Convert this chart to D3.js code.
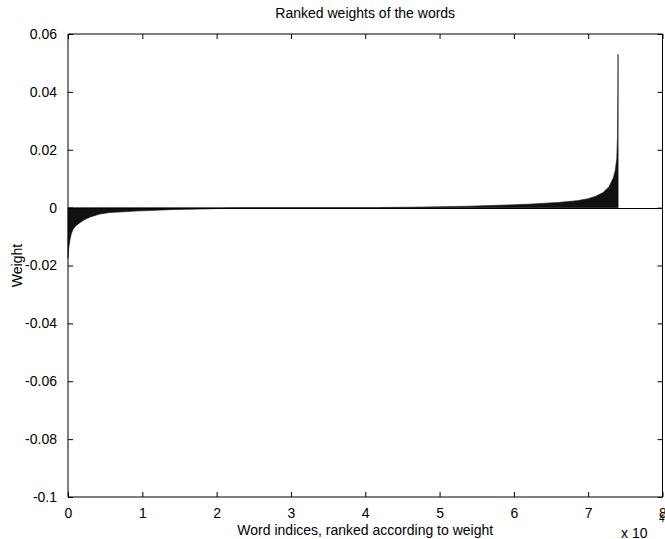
<!DOCTYPE html>
<html>
<head>
<meta charset="utf-8">
<script src="https://cdn.jsdelivr.net/npm/d3@7"></script>
<style>
  body { margin: 0; background: #fff; }
  svg { display: block; font-family: Arial, "Liberation Sans", Helvetica, sans-serif; }
</style>
</head>
<body>
<svg id="chart"></svg>
<script>
const WIDTH = 665;
const HEIGHT = 539;
const MARGIN = {top: 34, right: 2, bottom: 42, left: 68};

// ranked word weights, sampled along the sorted curve (index, weight)
const wordIndex = [
  0, 60, 150, 270, 450, 670, 1000, 1600, 2200, 3000, 4300, 5600, 7000, 9000,
  11000, 13700, 17700, 20500, 22400, 22500,
  41800, 42000, 46000, 50000, 54000, 58000, 62000, 66000, 68500, 70000,
  71000, 72000, 72800, 73400, 73650, 73850, 73950, 74000, 74020, 74030
];
const weight = [
  -0.0175, -0.015, -0.013, -0.011, -0.009, -0.0076, -0.0064, -0.0052, -0.0042, -0.0032,
  -0.0022, -0.0017, -0.0015, -0.0012, -0.001, -0.0007, -0.0005, -0.0003, -0.0001, 0,
  0, 0.00005, 0.00015, 0.0003, 0.0005, 0.0008, 0.0012, 0.0018, 0.0024, 0.0031,
  0.0039, 0.0052, 0.0072, 0.0104, 0.013, 0.017, 0.025, 0.04, 0.053, 0
];

const xTicks = [0, 1, 2, 3, 4, 5, 6, 7, 8];          // x 10^4
const yTicks = [0.06, 0.04, 0.02, 0, -0.02, -0.04, -0.06, -0.08, -0.1];
const yTickLabels = ["0.06", "0.04", "0.02", "0", "-0.02", "-0.04", "-0.06", "-0.08", "-0.1"];

const FONT = 14;

function main(){
    var svg = d3.select("#chart")
        .attr("width", WIDTH)
        .attr("height", HEIGHT);

    svg.append("rect").attr("width", WIDTH).attr("height", HEIGHT).attr("fill", "#fff");

    var x = d3.scaleLinear().domain([0, 80000]).range([MARGIN.left, WIDTH - MARGIN.right - 0.5]);
    var y = d3.scaleLinear().domain([-0.1, 0.06]).range([HEIGHT - MARGIN.bottom, MARGIN.top]);

    var data = wordIndex.map((d, i) => ({i: d, w: weight[i]}));

    // filled bars (rendered as one area down to the baseline)
    var area = d3.area()
        .x(d => x(d.i))
        .y0(y(0))
        .y1(d => y(d.w));

    svg.append("path")
        .datum(data)
        .attr("d", area)
        .attr("fill", "#111")
        .attr("stroke", "#111")
        .attr("stroke-width", 0.6);

    // baseline
    svg.append("line")
        .attr("x1", x(0)).attr("x2", x(80000))
        .attr("y1", Math.round(y(0)) + 0.5).attr("y2", Math.round(y(0)) + 0.5)
        .attr("stroke", "#000").attr("stroke-width", 1);

    // axes, ticks inward like matlab
    var xAxisBottom = d3.axisBottom(d3.scaleLinear().domain([0, 8]).range(x.range()))
        .tickValues(xTicks).tickSize(-5).tickPadding(11).tickFormat(d3.format("d"));
    var xAxisTop = d3.axisTop(d3.scaleLinear().domain([0, 8]).range(x.range()))
        .tickValues(xTicks).tickSize(-5).tickFormat("");
    var yAxisLeft = d3.axisLeft(y).tickValues(yTicks).tickSize(-5).tickPadding(11)
        .tickFormat((d, i) => yTickLabels[i]);
    var yAxisRight = d3.axisRight(y).tickValues(yTicks).tickSize(-5).tickFormat("");

    function style(g){
        g.select(".domain").attr("stroke", "#000");
        g.selectAll(".tick line").attr("stroke", "#000");
        g.selectAll("text").attr("font-size", FONT).attr("fill", "#000")
            .attr("font-family", "Arial, 'Liberation Sans', sans-serif");
    }

    svg.append("g").attr("transform", "translate(0," + (HEIGHT - MARGIN.bottom) + ")")
        .call(xAxisBottom).call(style).call(g => g.select(".domain").attr("d",
            "M" + x.range()[0] + ",0H" + x.range()[1]));
    svg.append("g").attr("transform", "translate(0," + MARGIN.top + ")")
        .call(xAxisTop).call(style).call(g => g.select(".domain").attr("d",
            "M" + x.range()[0] + ",0H" + x.range()[1]));
    svg.append("g").attr("transform", "translate(" + x.range()[0] + ",0)")
        .call(yAxisLeft).call(style).call(g => g.select(".domain").attr("d",
            "M0," + y.range()[0] + "V" + y.range()[1]));
    svg.append("g").attr("transform", "translate(" + x.range()[1] + ",0)")
        .call(yAxisRight).call(style).call(g => g.select(".domain").attr("d",
            "M0," + y.range()[0] + "V" + y.range()[1]));

    // exponent label
    svg.append("text")
        .attr("x", 621).attr("y", 538)
        .attr("font-size", FONT).text("x 10");
    svg.append("text").attr("x", 659).attr("y", 522).attr("font-size", 10).text("4");

    // title and axis labels
    svg.append("text")
        .attr("x", (x.range()[0] + x.range()[1]) / 2).attr("y", 18)
        .attr("text-anchor", "middle").attr("font-size", FONT)
        .text("Ranked weights of the words");

    svg.append("text")
        .attr("x", (x.range()[0] + x.range()[1]) / 2).attr("y", 535)
        .attr("text-anchor", "middle").attr("font-size", FONT)
        .text("Word indices, ranked according to weight");

    svg.append("text")
        .attr("transform", "translate(22," + ((y.range()[0] + y.range()[1]) / 2) + ") rotate(-90)")
        .attr("text-anchor", "middle").attr("font-size", FONT)
        .text("Weight");
}

window.addEventListener("load", main);
</script>
</body>
</html>
